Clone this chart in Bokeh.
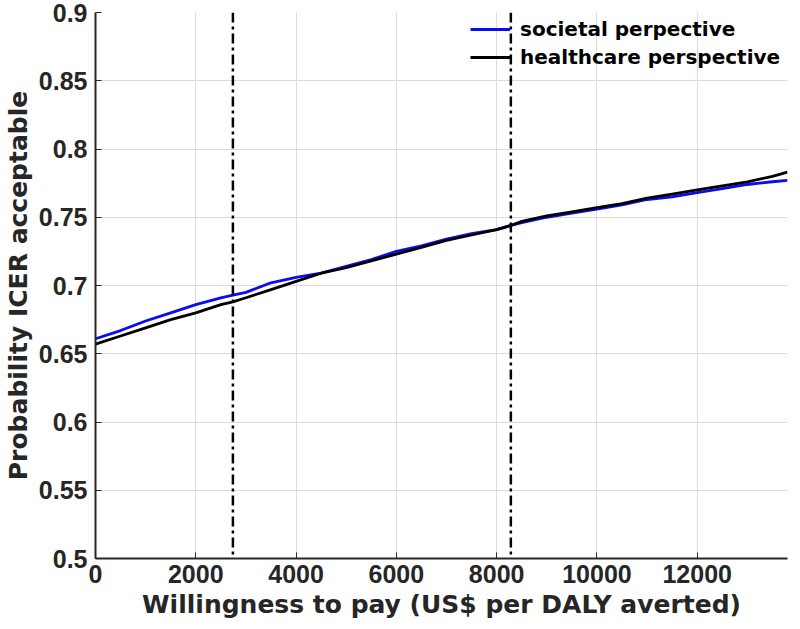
from bokeh.plotting import figure
from bokeh.models import Range1d, FixedTicker, Span, Legend, LegendItem
from bokeh.embed import file_html
from bokeh.resources import INLINE

wtp = [0, 500, 1000, 1500, 2000, 2500, 2740, 3000, 3500, 4000, 4500, 5000, 5500,
       6000, 6500, 7000, 7500, 8000, 8283, 8500, 9000, 9500, 10000, 10500, 11000,
       11500, 12000, 12500, 13000, 13500, 13800]
societal = [0.661, 0.667, 0.674, 0.680, 0.686, 0.691, 0.693, 0.695, 0.702, 0.706,
            0.709, 0.714, 0.719, 0.725, 0.729, 0.734, 0.738, 0.741, 0.744, 0.746,
            0.750, 0.753, 0.756, 0.759, 0.763, 0.765, 0.768, 0.771, 0.774, 0.776, 0.777]
healthcare = [0.657, 0.663, 0.669, 0.675, 0.680, 0.686, 0.688, 0.691, 0.697, 0.703,
              0.709, 0.713, 0.718, 0.723, 0.728, 0.733, 0.737, 0.741, 0.744, 0.747,
              0.751, 0.754, 0.757, 0.760, 0.764, 0.767, 0.770, 0.773, 0.776, 0.780, 0.783]
thresholds = [2740, 8283]
x_ticks = [0, 2000, 4000, 6000, 8000, 10000, 12000]
y_ticks = [0.5, 0.55, 0.6, 0.65, 0.7, 0.75, 0.8, 0.85, 0.9]
y_labels = ["0.5", "0.55", "0.6", "0.65", "0.7", "0.75", "0.8", "0.85", "0.9"]

TICK_FONT = "Liberation Sans"
LABEL_FONT = "DejaVu Sans"
TXT = "#262626"

p = figure(width=792, height=621, output_backend="svg", toolbar_location=None,
           x_range=Range1d(0, 13800), y_range=Range1d(0.5, 0.9),
           min_border_left=90, min_border_right=5, min_border_top=12, min_border_bottom=63)
p.outline_line_color = None
p.background_fill_color = "white"
p.border_fill_color = "white"

for ax, ticks in ((p.xaxis[0], x_ticks), (p.yaxis[0], y_ticks)):
    ax.ticker = FixedTicker(ticks=ticks)
    ax.major_label_text_font = TICK_FONT
    ax.major_label_text_font_style = "bold"
    ax.major_label_text_font_size = "25px"
    ax.major_label_text_color = TXT
    ax.axis_label_text_font = LABEL_FONT
    ax.axis_label_text_font_style = "bold"
    ax.axis_label_text_font_size = "25px"
    ax.axis_label_text_color = TXT
    ax.axis_line_color = TXT
    ax.axis_line_width = 2
    ax.major_tick_line_color = TXT
    ax.major_tick_in = 6
    ax.major_tick_out = 0
    ax.minor_tick_line_color = None

p.yaxis[0].major_label_overrides = {t: l for t, l in zip(y_ticks, y_labels)}
p.xaxis[0].axis_label = "Willingness to pay (US$ per DALY averted)"
p.yaxis[0].axis_label = "Probability ICER acceptable"
p.xaxis[0].major_label_standoff = 6
p.xaxis[0].axis_label_standoff = 4
p.yaxis[0].major_label_standoff = 8
p.yaxis[0].axis_label_standoff = 3

p.grid.grid_line_color = "#dcdcdc"
p.grid.grid_line_width = 1
p.xgrid.ticker = FixedTicker(ticks=x_ticks)
p.ygrid.ticker = FixedTicker(ticks=y_ticks)

for t in thresholds:
    p.add_layout(Span(location=t, dimension="height", line_color="black",
                      line_width=2.5, line_dash="10 4 3 4"))

r1 = p.line(wtp, societal, line_color="#0a0af5", line_width=2.8)
r2 = p.line(wtp, healthcare, line_color="black", line_width=2.8)

legend = Legend(items=[LegendItem(label="societal perpective", renderers=[r1]),
                       LegendItem(label="healthcare perspective", renderers=[r2])],
                location=(375, 487), border_line_color=None, background_fill_alpha=0,
                padding=0, margin=0, spacing=0, glyph_width=40, glyph_height=28,
                label_height=28, label_standoff=10,
                label_text_font=LABEL_FONT, label_text_font_style="bold",
                label_text_font_size="20px", label_text_color="black")
p.add_layout(legend)

open("out.html", "w").write(file_html(p, INLINE))
